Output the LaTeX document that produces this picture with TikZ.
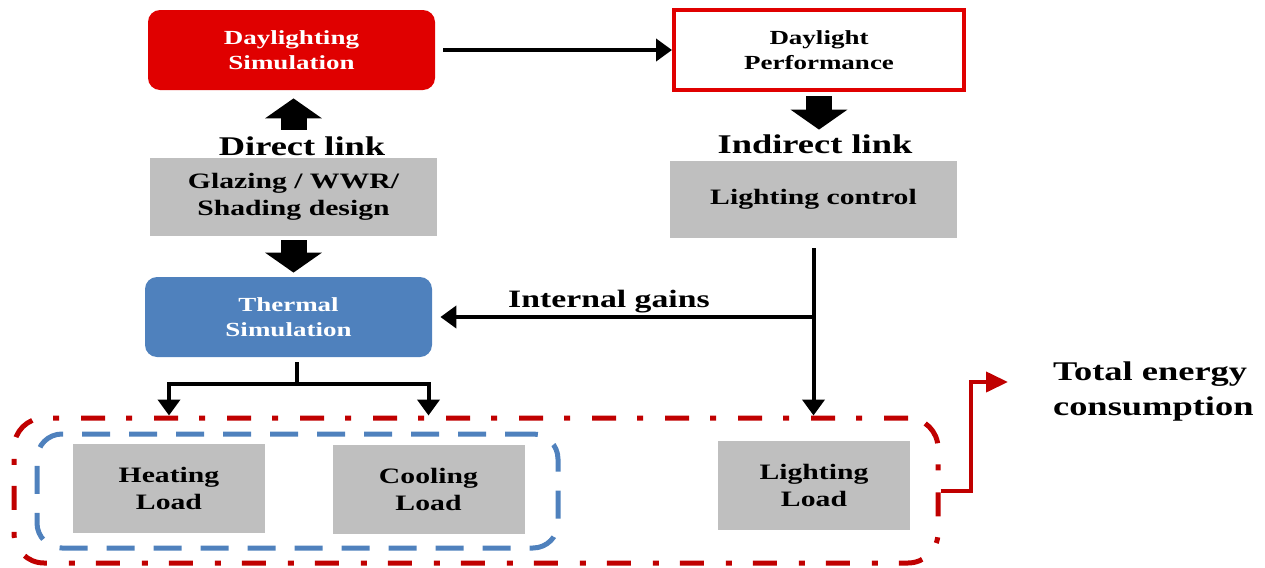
\documentclass[tikz,border=0pt]{standalone}
\usepackage{fontspec}
\setmainfont{Liberation Serif}[FakeStretch=1.35]
\usepackage{tikz}
\usetikzlibrary{calc,positioning,arrows.meta}

\definecolor{simred}{HTML}{E00000}
\definecolor{framered}{HTML}{C00000}
\definecolor{simblue}{HTML}{4F81BD}
\definecolor{boxgray}{HTML}{BFBFBF}

\begin{document}
\begin{tikzpicture}[x=0.5pt,y=-0.5pt,
  box/.style={fill=boxgray,minimum width=143.5pt,minimum height=39pt,align=center,font=\bfseries\fontsize{11}{13.5}\selectfont},
  load/.style={box,minimum width=96pt,minimum height=44.5pt},
  sim/.style={rounded corners=6pt,minimum width=143.5pt,minimum height=40pt,align=center,font=\bfseries\fontsize{10}{12.5}\selectfont},
  linktext/.style={font=\bfseries\fontsize{13.5}{16}\selectfont},
  conn/.style={line width=2pt,-{Triangle[width=11pt,length=8pt]}},
  redconn/.style={framered,line width=2pt,-{Triangle[width=10pt,length=11pt]}},
  blockarrow/.style={line width=13pt,-{Triangle[width=28pt,length=10pt]}},
  redframe/.style={draw=framered,line width=2.5pt,rounded corners=15pt,dash pattern=on 12pt off 11pt on 3pt off 10.5pt},
  blueframe/.style={draw=simblue,line width=2.5pt,rounded corners=12.5pt,dash pattern=on 14pt off 9.5pt}]
\useasboundingbox (0,0) rectangle (1265,568);

% top row
\node[sim,fill=simred,text=white] (dsim) at (291.5,50) {Daylighting\\Simulation};
\node[sim,rounded corners=0pt,draw=simred,line width=2pt,minimum width=145pt] (dperf) at (819,50) {Daylight\\Performance};
\draw[conn,shorten <=4pt] (dsim.east) -- (dsim.east -| dperf.west);

% links
\node[box] (glaz) at (293.5,197) {Glazing / WWR/\\Shading design};
\node[box,minimum height=38.5pt] (lctrl) at (813.5,199.5) {Lighting control};
\node[linktext] (direct) at (302,146) {Direct link};
\node[linktext] (indirect) at (815,144) {Indirect link};
\draw[blockarrow,shorten <=14pt,shorten >=4pt] (glaz.north) -- (glaz.north |- dsim.south);
\draw[blockarrow,shorten <=2pt,shorten >=15.5pt] (dperf.south) -- (dperf.south |- lctrl.north);
\node[sim,fill=simblue,text=white] (tsim) at (288.5,317) {Thermal\\Simulation};
\draw[blockarrow,shorten <=2pt,shorten >=2pt] (glaz.south) -- (glaz.south |- tsim.north);

% loads
\node[redframe,minimum width=462pt,minimum height=72.5pt] (frame) at (476,490.5) {};
\node[blueframe,minimum width=260.5pt,minimum height=57pt] (tframe) at (297.5,491) {};
\node[load] (heat) at (169,488.5) {Heating\\Load};
\node[load] (cool) at (428.5,489.5) {Cooling\\Load};
\node[load] (light) at (814,485.5) {Lighting\\Load};

\coordinate (split) at ($(tsim.south)+(4pt,-13.5pt)$);
\draw[line width=2pt,shorten <=2.5pt] (tsim.south -| split) -- (split);
\draw[conn] (split) -| (heat.north |- frame.north);
\draw[conn] (split) -| (cool.north |- frame.north);

\coordinate (ig) at (lctrl.south |- tsim.east);
\draw[conn,shorten <=5pt] (lctrl.south) -- (lctrl.south |- frame.north);
\draw[conn,shorten >=4pt] (ig) -- node[above=-2.5pt,xshift=-7pt,font=\bfseries\fontsize{12.5}{15}\selectfont] (igtext) {Internal gains} (tsim.east);

% total
\node[anchor=west,align=left,font=\bfseries\fontsize{13.5}{17.5}\selectfont] (total) at (1046,392) {Total energy\\consumption};
\coordinate (tip) at (1008,382);
\draw[redconn] (frame.east) -- ++(15pt,0) |- (tip);
\end{tikzpicture}
\end{document}
